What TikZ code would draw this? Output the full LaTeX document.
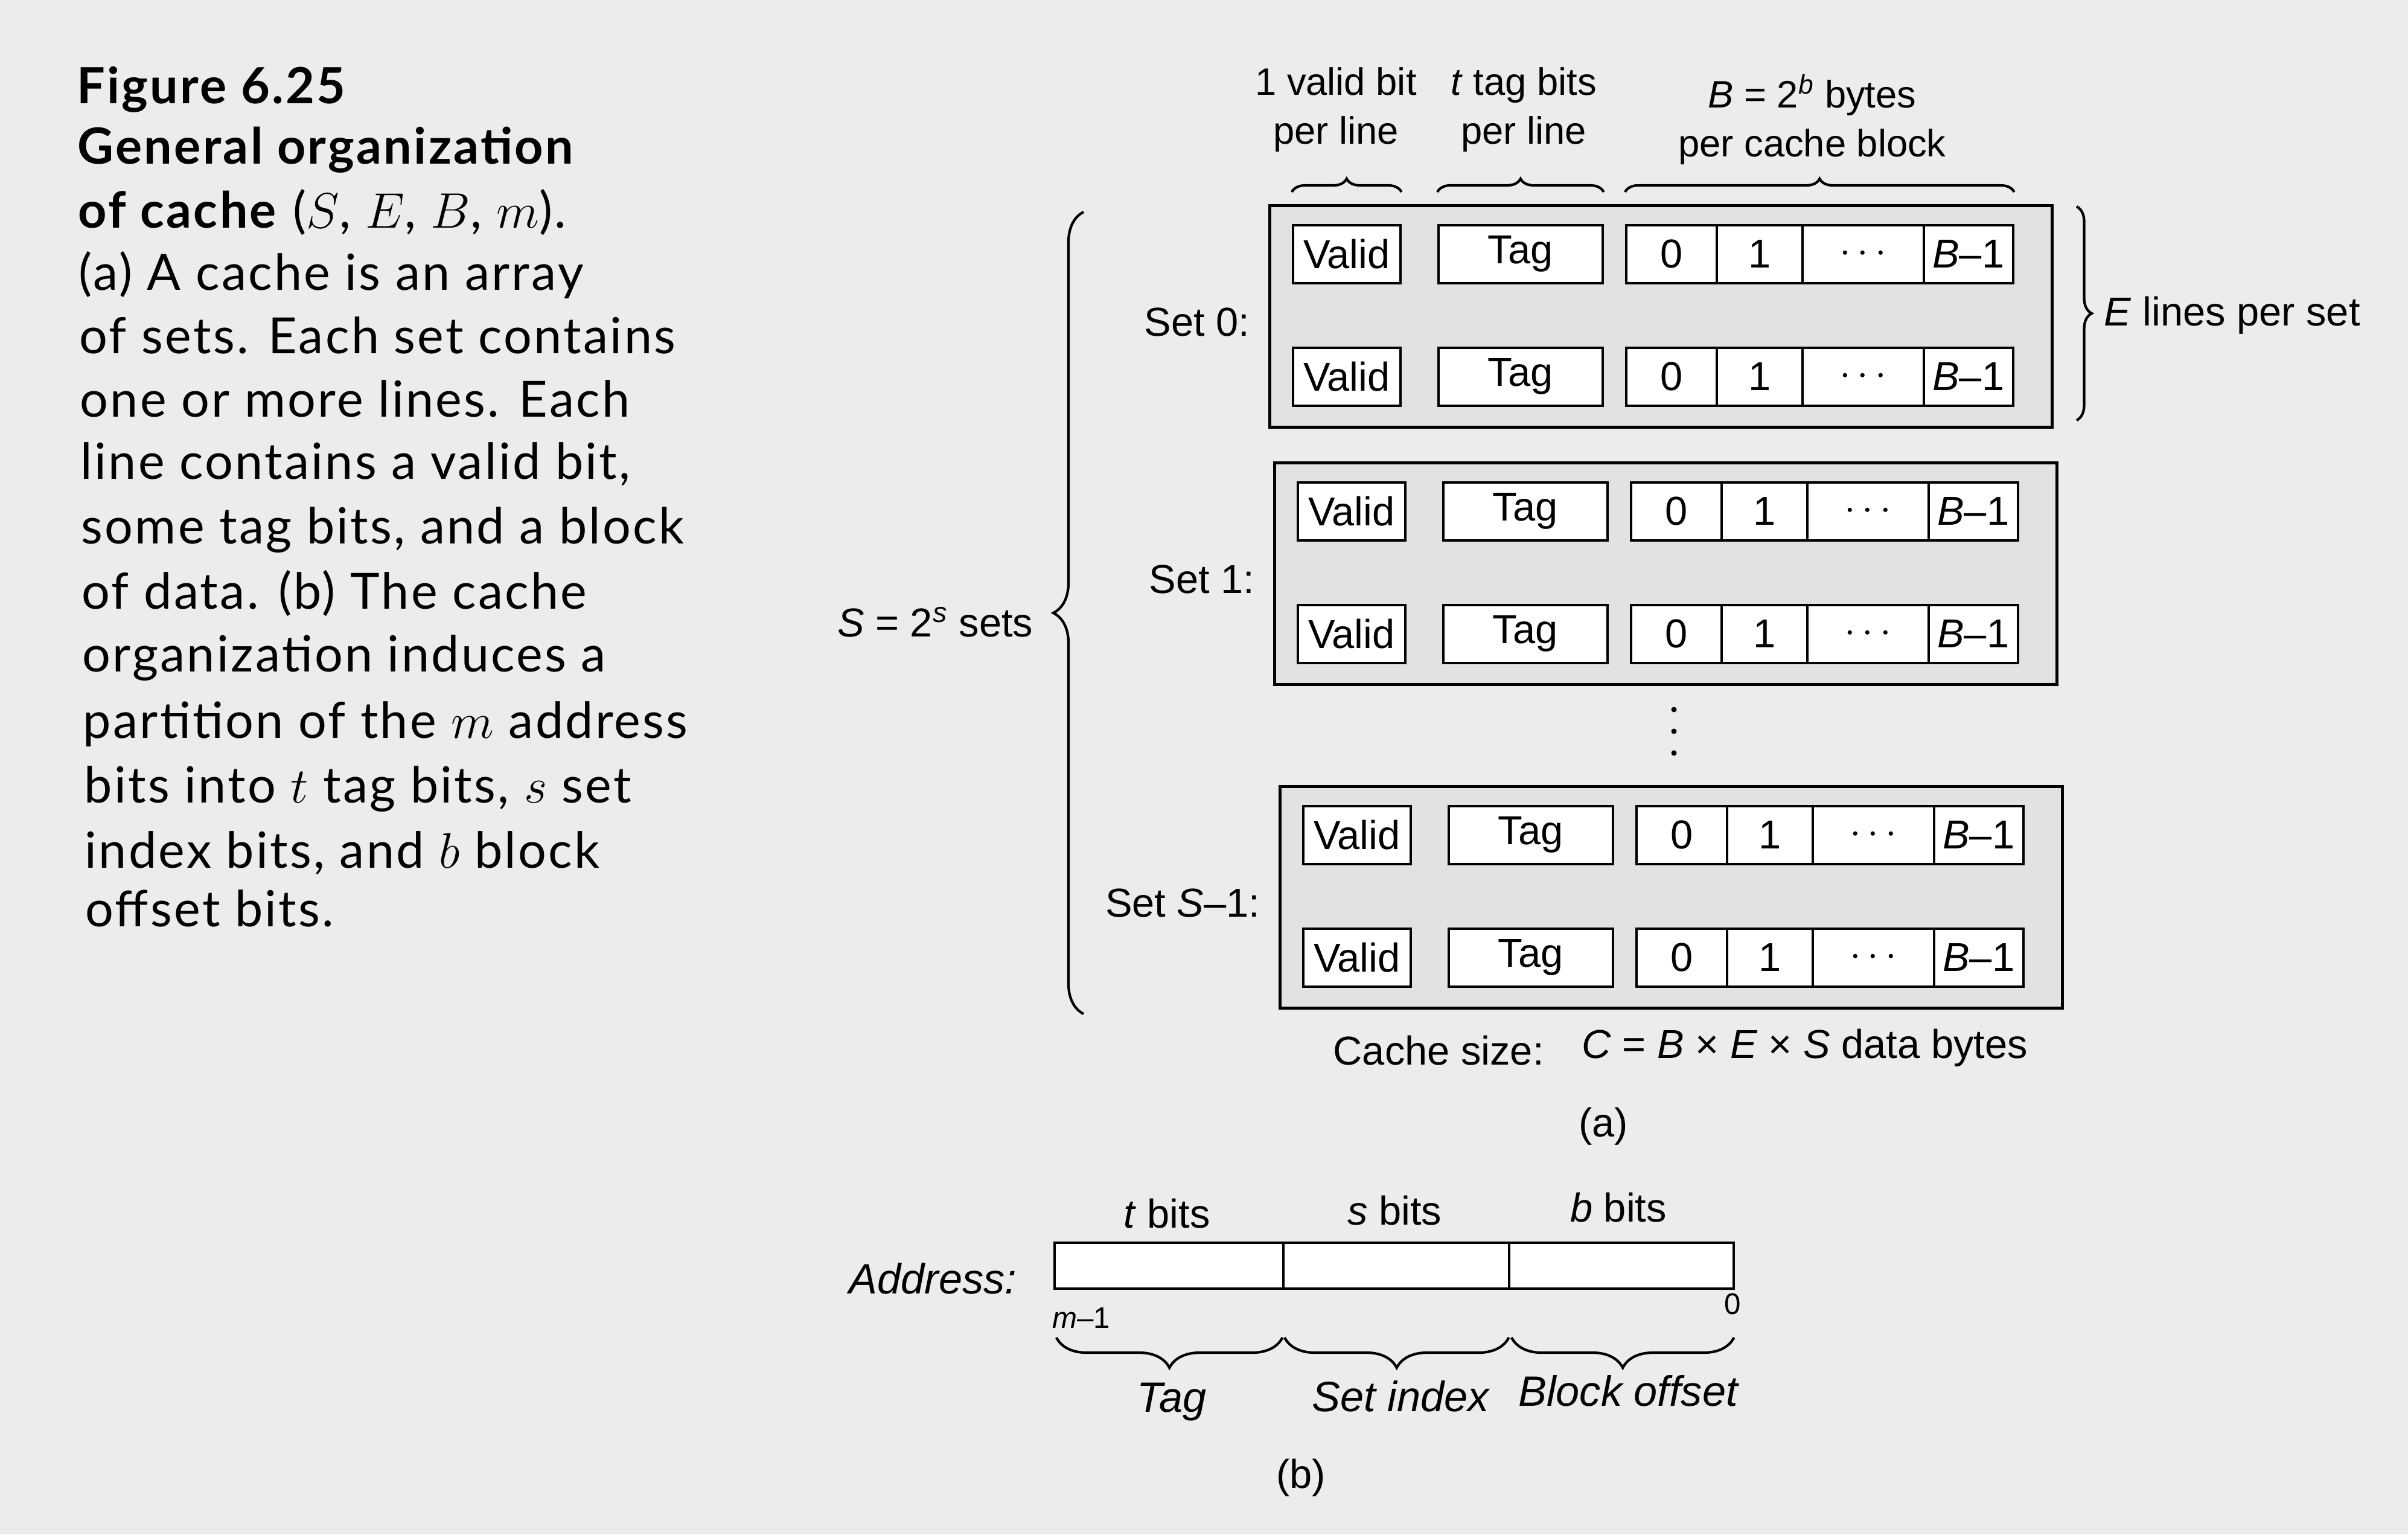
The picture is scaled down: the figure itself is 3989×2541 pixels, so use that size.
\documentclass[tikz,border=0pt]{standalone}
\usepackage{fix-cm}
\usepackage{fontspec}
\setmainfont{Liberation Sans}
\newfontfamily\capfont[LetterSpace=4]{Lato}
\usetikzlibrary{decorations.pathreplacing}
\definecolor{paper}{RGB}{236,236,236}
\definecolor{speck}{RGB}{226,226,226}
\newcommand\lblfont{\fontsize{19}{22}\selectfont}
\newcommand\topfont{\fontsize{18}{23}\selectfont}
\newcommand\capsize{\capfont\fontsize{23.5}{27}\selectfont}
\tikzset{
  cellbox/.style={draw=black, line width=1pt, fill=white, inner sep=0pt, anchor=north west, minimum height=0.96cm, font=\lblfont},
  setbox/.style={draw=black, line width=1.4pt, fill=speck, inner sep=0pt, anchor=north west, minimum width=12.95cm, minimum height=3.67cm},
  setlbl/.style={anchor=east, inner sep=0pt, font=\lblfont},
  lbl/.style={inner sep=0pt, font=\lblfont},
  toplbl/.style={inner sep=0pt, font=\topfont, align=center},
  caption/.style={anchor=base west, inner sep=0pt, font=\capsize},
  addrbox/.style={draw=black, line width=1.2pt, fill=white, inner sep=0pt, anchor=north west, minimum height=0.76cm},
  bracedeco/.style={decorate, decoration={brace, amplitude=#1}, line width=1.2pt},
  ilbl/.style={inner sep=0pt, font=\fontsize{20}{23}\selectfont\itshape},
  smalllbl/.style={inner sep=0pt, font=\fontsize{14}{16}\selectfont},
}
\newcommand\cacheline[3]{%
  \node[cellbox, minimum width=1.78cm] (#1v) at ({#2+39},{#3}) {Valid};
  \node[cellbox, minimum width=2.72cm] (#1t) at ({#2+280},{#3}) {Tag};
  \node[cellbox, minimum width=1.50cm] (#1a) at ({#2+591},{#3}) {0};
  \node[cellbox, minimum width=1.42cm] (#1b) at ({#2+741},{#3}) {1};
  \node[cellbox, minimum width=2.01cm] (#1c) at ({#2+883},{#3}) {$\cdots$};
  \node[cellbox, minimum width=1.48cm] (#1d) at ({#2+1084},{#3}) {\textit{B}–1};
}
\newcommand\cacheset[4]{%
  \node[setbox] (#1) at (#2,#3) {};
  \cacheline{#1la}{#2}{#3+33}
  \cacheline{#1lb}{#2}{#3+236}
  \node[setlbl] (#1lab) at ({#2-30},{#3+195}) {#4};
}
\begin{document}
\begin{tikzpicture}[x=0.01cm,y=-0.01cm]
\useasboundingbox (0,0) rectangle (3989,2541);
\fill[paper] (0,0) rectangle (3989,2541);

% caption
\node[caption] (cap1) at (127,171) {\textbf{Figure 6.25}};
\node[caption] (cap2) at (128,271) {\textbf{General organization}};
\node[caption] (cap3) at (129,377) {\textbf{of cache} ($S$, $E$, $B$, $m$).};
\node[caption] (cap4) at (130,480) {(a) A cache is an array};
\node[caption] (cap5) at (131,585) {of sets. Each set contains};
\node[caption] (cap6) at (132,690) {one or more lines. Each};
\node[caption] (cap7) at (133,793) {line contains a valid bit,};
\node[caption] (cap8) at (134,900) {some tag bits, and a block};
\node[caption] (cap9) at (135,1008) {of data. (b) The cache};
\node[caption] (cap10) at (136,1112) {organization induces a};
\node[caption] (cap11) at (137,1222) {partition of the $m$ address};
\node[caption] (cap12) at (139,1329) {bits into $t$ tag bits, $s$ set};
\node[caption] (cap13) at (140,1437) {index bits, and $b$ block};
\node[caption] (cap14) at (141,1534) {offset bits.};

% sets
\cacheset{sA}{2101}{338}{Set 0:}
\cacheset{sB}{2109}{764}{Set 1:}
\cacheset{sC}{2118}{1300}{Set \textit{S}–1:}

% top labels
\node[toplbl] (tv) at (2213,182) {1 valid bit\\per line};
\node[toplbl] (tt) at (2524,182) {\textit{t} tag bits\\per line};
\node[toplbl] (tb) at (3002,198) {\textit{B} = 2\textsuperscript{\textit{b}} bytes\\per cache block};
\coordinate (topb) at (0,318);
\draw[bracedeco=0.22cm] (sAlav.west |- topb) -- (sAlav.east |- topb);
\draw[bracedeco=0.22cm] (sAlat.west |- topb) -- (sAlat.east |- topb);
\draw[bracedeco=0.22cm] (sAlaa.west |- topb) -- (sAlad.east |- topb);

% E brace
\coordinate (eb1) at (3440,342);
\coordinate (eb2) at (3440,696);
\draw[bracedeco=0.25cm] (eb1) -- (eb2);
\node[lbl, anchor=west] (elbl) at (3485,522) {\textit{E} lines per set};

% S brace
\coordinate (sb1) at (1795,1679);
\coordinate (sb2) at (1795,351);
\draw[bracedeco=0.5cm] (sb1) -- (sb2);
\node[lbl, anchor=east] (slbl) at (1712,1030) {\textit{S} = 2\textsuperscript{\textit{s}} sets};

% vertical dots
\fill (2773,1175) circle (4.5);
\fill (2773,1211) circle (4.5);
\fill (2773,1247) circle (4.5);

% cache size
\node[lbl, anchor=west] (csz) at (2208,1740) {Cache size:};
\node[lbl, anchor=west] (cform) at (2620,1735) {\textit{C} = \textit{B} × \textit{E} × \textit{S} data bytes};
\node[lbl] (capa) at (2656,1865) {(a)};

% (b) address
\node[ilbl, anchor=east] (addr) at (1685,2117) {Address:};
\node[addrbox, minimum width=3.79cm] (ab1) at (1745,2056) {};
\node[addrbox, minimum width=3.74cm] (ab2) at (2124,2056) {};
\node[addrbox, minimum width=3.72cm] (ab3) at (2498,2056) {};
\node[lbl] (tbits) at (1933,2010) {\textit{t} bits};
\node[lbl] (sbits) at (2310,2005) {\textit{s} bits};
\node[lbl] (bbits) at (2681,2000) {\textit{b} bits};
\node[smalllbl] (mm1) at (1791,2183) {\textit{m}–1};
\node[smalllbl] (zero) at (2870,2160) {0};
\coordinate (bb) at (0,2215);
\draw[bracedeco=0.5cm] ([xshift=-0.04cm]ab1.east |- bb) -- ([xshift=0.05cm]ab1.west |- bb);
\draw[bracedeco=0.5cm] ([xshift=-0.03cm]ab2.east |- bb) -- ([xshift=0.04cm]ab2.west |- bb);
\draw[bracedeco=0.5cm] ([xshift=-0.02cm]ab3.east |- bb) -- ([xshift=0.06cm]ab3.west |- bb);
\node[ilbl] (ltag) at (1941,2322) {Tag};
\node[ilbl] (lset) at (2320,2312) {Set index};
\node[ilbl] (lblk) at (2697,2303) {Block offset};
\node[lbl] (capb) at (2155,2447) {(b)};
\end{tikzpicture}
\end{document}
